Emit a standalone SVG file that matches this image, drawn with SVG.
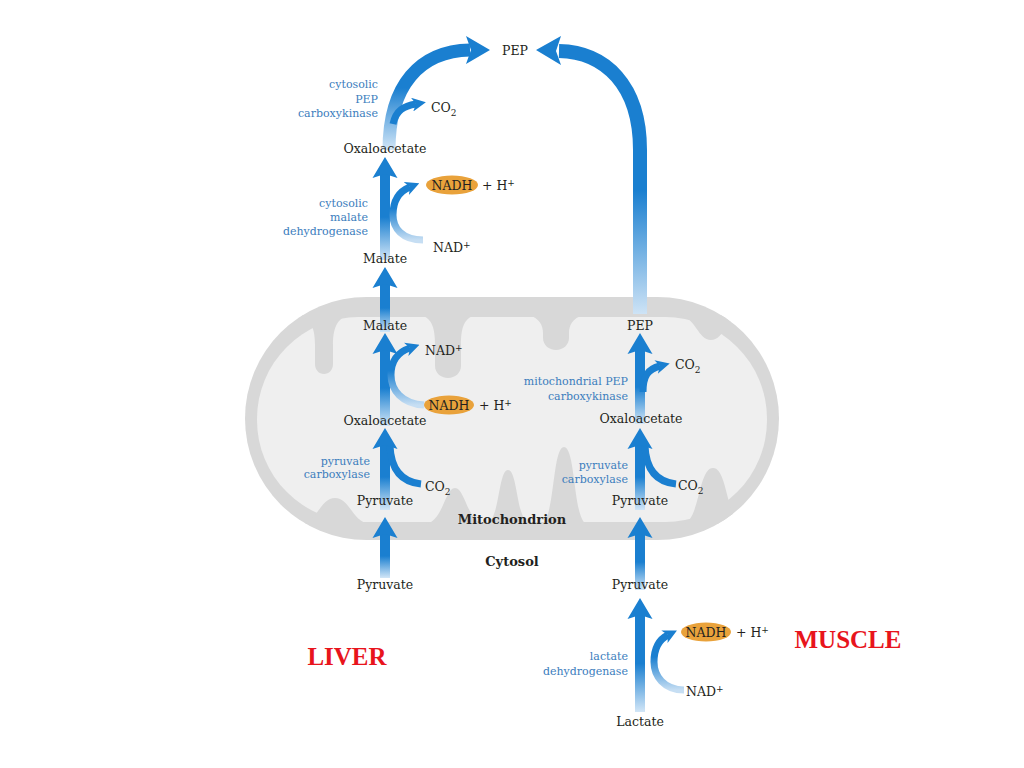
<svg xmlns="http://www.w3.org/2000/svg" width="1024" height="768" viewBox="0 0 1024 768">
<defs>
<style>
.lbl{font-family:"DejaVu Serif",serif;font-size:12.5px;fill:#231f20;text-anchor:middle}
.st{text-anchor:start}
.enz{font-family:"DejaVu Serif",serif;font-size:11px;fill:#3b7dbd;text-anchor:end}
.bold{font-family:"DejaVu Serif",serif;font-size:13px;font-weight:bold;fill:#231f20;text-anchor:middle}
.big{font-family:"Liberation Serif",serif;font-size:25px;font-weight:bold;fill:#e8141c;text-anchor:middle}
.ah{fill:#1a7fd0}
.nadh{fill:#e9a23b}
.side{fill:none;stroke-width:7}
.solid{stroke:#1a7fd0}
.grad{stroke:url(#cg)}
.crista{fill:#d8d8d8}
</style>
<linearGradient id="sg" x1="0" y1="1" x2="0" y2="0"><stop offset="0" stop-color="#d2e6f7"/><stop offset="0.5" stop-color="#1a7fd0"/></linearGradient>
<linearGradient id="cg" x1="0" y1="1" x2="0" y2="0"><stop offset="0" stop-color="#c6def3"/><stop offset="0.6" stop-color="#1a7fd0"/></linearGradient>
<linearGradient id="arcL" gradientUnits="userSpaceOnUse" x1="0" y1="150" x2="0" y2="88"><stop offset="0" stop-color="#d2e6f7"/><stop offset="1" stop-color="#1a7fd0"/></linearGradient>
<linearGradient id="arcR" gradientUnits="userSpaceOnUse" x1="0" y1="315" x2="0" y2="190"><stop offset="0" stop-color="#cfe4f6"/><stop offset="1" stop-color="#1a7fd0"/></linearGradient>
<marker id="sm" viewBox="0 0 14 14" refX="4" refY="7" markerWidth="14" markerHeight="14" markerUnits="userSpaceOnUse" orient="auto"><path d="M0,0 L14,7 L0,14 L4,7 Z" fill="#1a7fd0"/></marker>
<path id="ah" d="M0,0 L12.5,21 L0,17 L-12.5,21 Z"/>
<clipPath id="mclip"><rect x="245" y="297" width="534" height="243" rx="121.5"/></clipPath>
</defs>
<rect width="1024" height="768" fill="#ffffff"/>

<g id="mitochondrion">
<rect x="245" y="297" width="534" height="243" rx="121.5" fill="#d8d8d8"/>
<rect x="257" y="317" width="510" height="205" rx="102" fill="#efefef"/>
<g clip-path="url(#mclip)">
<path class="crista" d="M298 315 C312 318,315 330,315 345 L315 364 C315 370,319 374,324 374 C329 374,333 370,333 364 L333 345 C333 330,336 318,350 315 Z"/>
<path class="crista" d="M420 315 C433 318,435 330,435 345 L435 366 C435 373,441 378,448 378 C455 378,461 373,461 366 L461 345 C461 330,463 318,476 315 Z"/>
<path class="crista" d="M528 315 C540 318,543 326,543 333 L543 338 C543 345,549 350,556 350 C563 350,569 345,569 338 L569 333 C569 326,572 318,584 315 Z"/>
<path class="crista" d="M680 315 C696 318,698 340,711 340 C724 340,726 318,742 315 Z"/>
<path class="crista" d="M300 524 C318 522,320 498,335 498 C350 498,352 522,370 524 Z"/>
<path class="crista" d="M426 524 C443 521,445 488,455 488 C465 488,467 521,484 524 Z"/>
<path class="crista" d="M486 524 C500 521,498 470,508 470 C518 470,516 521,530 524 Z"/>
<path class="crista" d="M541 524 C555 521,552 447,564 447 C576 447,573 521,587 524 Z"/>
<path class="crista" d="M683 524 C700 521,698 468,713 468 C728 468,726 521,743 524 Z"/>
</g>
</g>

<g id="connectors">
<rect x="380" y="534" width="10" height="44" fill="url(#sg)"/>
<use href="#ah" x="385" y="517" class="ah"/>
<rect x="380" y="444" width="10" height="66" fill="url(#sg)"/>
<use href="#ah" x="385" y="428" class="ah"/>
<rect x="380" y="350" width="10" height="76" fill="url(#sg)"/>
<use href="#ah" x="385" y="333" class="ah"/>
<rect x="380" y="284" width="10" height="48" fill="url(#sg)"/>
<use href="#ah" x="385" y="267" class="ah"/>
<rect x="380" y="174" width="10" height="86" fill="url(#sg)"/>
<use href="#ah" x="385" y="157" class="ah"/>
<path d="M389 150 C389 85,420 51,470 50" fill="none" stroke="url(#arcL)" stroke-width="13"/>
<path d="M490 50 L466 36 L471 50 L466 64 Z" class="ah"/>
<path class="side solid" d="M393 124 C396 110,404 106,416 104" marker-end="url(#sm)" stroke-width="6"/>
<path class="side grad" d="M423 240 C402 240,393 228,393 215 C393 200,400 191,410 187" marker-end="url(#sm)"/>
<path class="side grad" d="M424 405 C402 404,391 390,391 375 C391 361,398 352,410 348" marker-end="url(#sm)"/>
<path class="side solid" d="M421 484 C402 482,391 470,390 446" stroke-width="8"/>
<rect x="635" y="615" width="10" height="97" fill="url(#sg)"/>
<use href="#ah" x="640" y="598" class="ah"/>
<rect x="635" y="534" width="10" height="56" fill="url(#sg)"/>
<use href="#ah" x="640" y="517" class="ah"/>
<rect x="635" y="444" width="10" height="66" fill="url(#sg)"/>
<use href="#ah" x="640" y="428" class="ah"/>
<rect x="635" y="350" width="10" height="74" fill="url(#sg)"/>
<use href="#ah" x="640" y="333" class="ah"/>
<path d="M640 314 L640 150 C640 85,605 52,559 51" fill="none" stroke="url(#arcR)" stroke-width="14"/>
<path d="M536 50 L561 36 L556 51 L561 65 Z" class="ah"/>
<path class="side solid" d="M643 392 C643 376,648 369,660 366" marker-end="url(#sm)" stroke-width="6"/>
<path class="side solid" d="M676 484 C657 482,646 470,645 446" stroke-width="8"/>
<path class="side grad" d="M684 690 C664 690,654 676,654 662 C654 648,660 639,668 635" marker-end="url(#sm)"/>
</g>

<g id="pep-top"><text class="lbl" x="515" y="55">PEP</text></g>
<g id="cyt-pepck"><text class="enz" x="378" y="88">cytosolic</text><text class="enz" x="378" y="103">PEP</text><text class="enz" x="378" y="117">carboxykinase</text></g>
<g id="co2-top"><text class="lbl st" x="431" y="112">CO<tspan dy="4" font-size="9">2</tspan></text></g>
<g id="oaa-cyt"><text class="lbl" x="385" y="153">Oxaloacetate</text></g>
<g id="nadh-cyt"><ellipse class="nadh" cx="452" cy="185" rx="26" ry="9.5"/><text class="lbl" x="452" y="189.5">NADH</text><text class="lbl st" x="482" y="190">+ H<tspan dy="-4" font-size="9">+</tspan></text></g>
<g id="cyt-mdh"><text class="enz" x="368" y="207">cytosolic</text><text class="enz" x="368" y="221">malate</text><text class="enz" x="368" y="235">dehydrogenase</text></g>
<g id="nad-cyt"><text class="lbl st" x="433" y="252">NAD<tspan dy="-4" font-size="9">+</tspan></text></g>
<g id="malate-cyt"><text class="lbl" x="385" y="263">Malate</text></g>

<g id="malate-mito"><text class="lbl" x="385" y="330">Malate</text></g>
<g id="nad-mito"><text class="lbl st" x="425" y="355">NAD<tspan dy="-4" font-size="9">+</tspan></text></g>
<g id="nadh-mito"><ellipse class="nadh" cx="449" cy="405" rx="25" ry="9.5"/><text class="lbl" x="449" y="409.5">NADH</text><text class="lbl st" x="479" y="410">+ H<tspan dy="-4" font-size="9">+</tspan></text></g>
<g id="oaa-mito-l"><text class="lbl" x="385" y="425">Oxaloacetate</text></g>
<g id="pc-l"><text class="enz" x="370" y="465">pyruvate</text><text class="enz" x="370" y="478">carboxylase</text></g>
<g id="co2-l"><text class="lbl st" x="425" y="491">CO<tspan dy="4" font-size="9">2</tspan></text></g>
<g id="pyr-mito-l"><text class="lbl" x="385" y="505">Pyruvate</text></g>
<g id="mito-label"><text class="bold" x="512" y="524">Mitochondrion</text></g>

<g id="pep-mito"><text class="lbl" x="640" y="330">PEP</text></g>
<g id="co2-pepck"><text class="lbl st" x="675" y="369">CO<tspan dy="4" font-size="9">2</tspan></text></g>
<g id="mito-pepck"><text class="enz" x="628" y="385">mitochondrial PEP</text><text class="enz" x="628" y="400">carboxykinase</text></g>
<g id="oaa-mito-r"><text class="lbl" x="641" y="423">Oxaloacetate</text></g>
<g id="pc-r"><text class="enz" x="628" y="469">pyruvate</text><text class="enz" x="628" y="483">carboxylase</text></g>
<g id="co2-r"><text class="lbl st" x="678" y="490">CO<tspan dy="4" font-size="9">2</tspan></text></g>
<g id="pyr-mito-r"><text class="lbl" x="640" y="505">Pyruvate</text></g>

<g id="cytosol-label"><text class="bold" x="512" y="566">Cytosol</text></g>
<g id="pyr-cyt-l"><text class="lbl" x="385" y="589">Pyruvate</text></g>
<g id="pyr-cyt-r"><text class="lbl" x="640" y="589">Pyruvate</text></g>
<g id="nadh-ldh"><ellipse class="nadh" cx="706" cy="632" rx="25" ry="9.5"/><text class="lbl" x="706" y="636.5">NADH</text><text class="lbl st" x="736" y="637">+ H<tspan dy="-4" font-size="9">+</tspan></text></g>
<g id="ldh"><text class="enz" x="628" y="660">lactate</text><text class="enz" x="628" y="675">dehydrogenase</text></g>
<g id="nad-ldh"><text class="lbl st" x="686" y="696">NAD<tspan dy="-4" font-size="9">+</tspan></text></g>
<g id="lactate"><text class="lbl" x="640" y="726">Lactate</text></g>
<g id="liver"><text class="big" x="347" y="665">LIVER</text></g>
<g id="muscle"><text class="big" x="848" y="648">MUSCLE</text></g>
</svg>
